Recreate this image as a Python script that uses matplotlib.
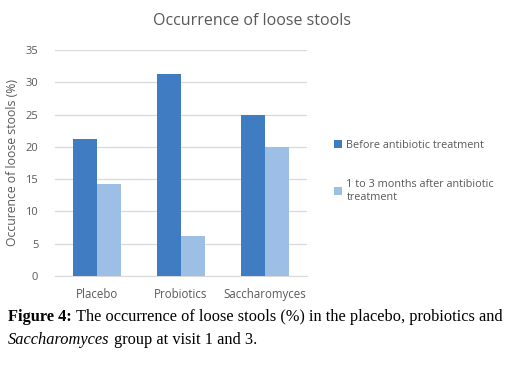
import numpy as np
import matplotlib
matplotlib.use("Agg")
import matplotlib.pyplot as plt

groups = ["Placebo", "Probiotics", "Saccharomyces"]
before = [21.2, 31.2, 25.0]
after = [14.2, 6.2, 19.9]
series_labels = ["Before antibiotic treatment", "1 to 3 months after antibiotic\ntreatment"]
yticks = [0, 5, 10, 15, 20, 25, 30, 35]

c_before = "#3F7CC1"
c_after = "#9DBFE6"
gray = "#595959"

fig = plt.figure(figsize=(5.28, 3.67), dpi=100)
ax = fig.add_axes([0.104, 0.248, 0.477, 0.616])

x = np.arange(len(groups))
w = 0.285
b1 = ax.bar(x - w / 2, before, w, color=c_before, label=series_labels[0], zorder=3)
b2 = ax.bar(x + w / 2, after, w, color=c_after, label=series_labels[1], zorder=3)

ax.set_xlim(-0.5, 2.5)
ax.set_ylim(0, 35)
ax.set_yticks(yticks)
ax.set_xticks(x)
ax.set_xticklabels(groups, fontsize=8.3, color=gray, family="Open Sans")
ax.tick_params(axis="y", labelsize=8, labelcolor=gray, length=0, pad=12)
ax.tick_params(axis="x", length=0, pad=9)
for lbl in ax.get_yticklabels():
    lbl.set_family("Open Sans")
ax.grid(axis="y", color="#D9D9D9", linewidth=0.9, zorder=0)
for s in ["top", "right", "left"]:
    ax.spines[s].set_visible(False)
ax.spines["bottom"].set_color("#D9D9D9")

ax.set_ylabel("Occurence of loose stools (%)", fontsize=8.8, color=gray,
              family="Open Sans", labelpad=5)
fig.text(0.477, 0.942, "Occurrence of loose stools", ha="center", va="center",
         fontsize=11.5, color=gray, family="Open Sans")

fig.legend(handles=[b1, b2], labels=series_labels, loc="upper left",
           bbox_to_anchor=(0.615, 0.645), frameon=False,
           prop={"family": "Open Sans", "size": 7.8}, labelcolor=gray,
           handlelength=0.7, handleheight=0.7, handletextpad=0.4,
           labelspacing=2.6)

# caption: pieces placed one after another
cap = dict(fontsize=11.8, family="Liberation Serif", va="baseline")
renderer = fig.canvas.get_renderer()


def put(x0, y0, s, **kw):
    t = fig.text(x0, y0, s, **cap, **kw)
    bb = t.get_window_extent(renderer)
    return bb.x1 / fig.bbox.width


xe = put(0.015, 0.125, "Figure 4:", fontweight="bold")
put(xe + 0.008, 0.125, "The occurrence of loose stools (%) in the placebo, probiotics and")
xe = put(0.015, 0.062, "Saccharomyces", style="italic")
put(xe + 0.008, 0.062, "group at visit 1 and 3.")

fig.savefig("out.png", dpi=100)
